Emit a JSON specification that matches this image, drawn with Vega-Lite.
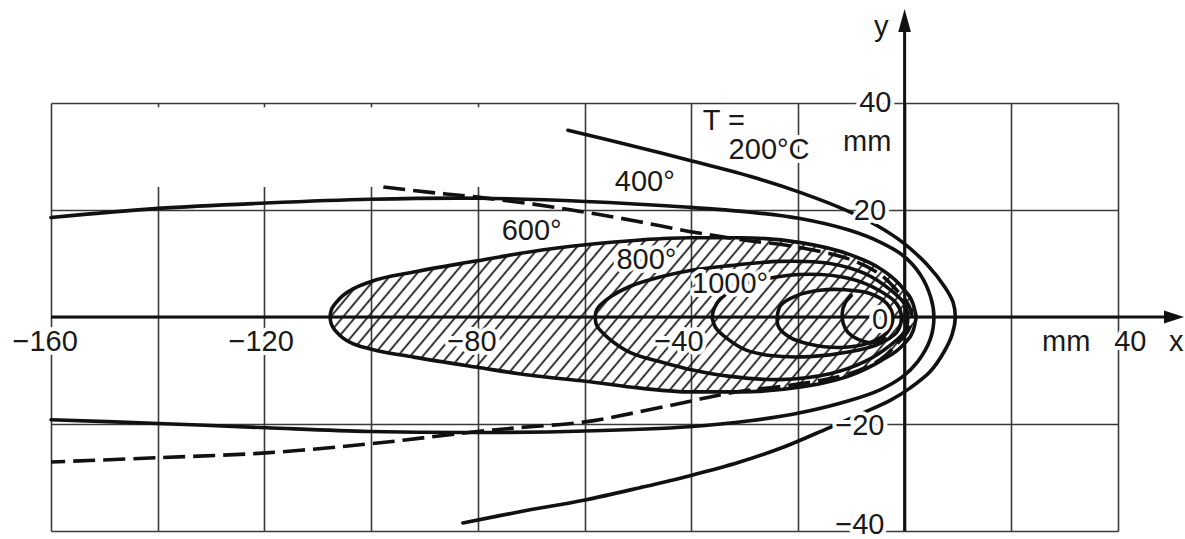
{
  "$schema": "https://vega.github.io/schema/vega-lite/v6.json",
  "width": 1067,
  "height": 428,
  "autosize": {"type": "none"},
  "padding": {"left": 51, "top": 103, "right": 67, "bottom": 8},
  "background": "white",
  "config": {"view": {"stroke": null}},
  "datasets": {
    "erase": [{"x": -159.3, "y": 24.3, "x2": -70, "y2": 39.2}],
    "hatch": [
      {"x": -107.7, "y": 0, "y2": 0},
      {"x": -107.55, "y": 1.0, "y2": -1.0},
      {"x": -107.1, "y": 2.0, "y2": -2.0},
      {"x": -106.3, "y": 3.0, "y2": -3.0},
      {"x": -105.3, "y": 4.0, "y2": -3.9},
      {"x": -104.0, "y": 4.9, "y2": -4.7},
      {"x": -100.1, "y": 6.6, "y2": -6.0},
      {"x": -92.0, "y": 8.4, "y2": -7.5},
      {"x": -80.1, "y": 10.5, "y2": -9.4},
      {"x": -70.1, "y": 12.2, "y2": -10.9},
      {"x": -59.8, "y": 13.5, "y2": -12.0},
      {"x": -49.5, "y": 14.4, "y2": -13.3},
      {"x": -40.3, "y": 14.8, "y2": -14.0},
      {"x": -30.7, "y": 14.8, "y2": -14.0},
      {"x": -19.5, "y": 13.9, "y2": -13.1},
      {"x": -10.1, "y": 11.6, "y2": -10.9},
      {"x": -4.5, "y": 9.0, "y2": -8.2},
      {"x": -0.2, "y": 5.2, "y2": -5.1},
      {"x": 1.6, "y": 2.4, "y2": -2.6},
      {"x": 2.2, "y": 0, "y2": 0}
    ],
    "iso": [
      {"c": "200", "i": 0, "x": -63.1, "y": 34.9},
      {"c": "200", "i": 1, "x": -51.5, "y": 32.1},
      {"c": "200", "i": 2, "x": -40.4, "y": 29.3},
      {"c": "200", "i": 3, "x": -29.0, "y": 26.3},
      {"c": "200", "i": 4, "x": -19.6, "y": 23.3},
      {"c": "200", "i": 5, "x": -10.6, "y": 19.8},
      {"c": "200", "i": 6, "x": -5.2, "y": 17.1},
      {"c": "200", "i": 7, "x": -0.3, "y": 13.9},
      {"c": "200", "i": 8, "x": 4.2, "y": 9.8},
      {"c": "200", "i": 9, "x": 7.6, "y": 5.5},
      {"c": "200", "i": 10, "x": 9.1, "y": 2.7},
      {"c": "200", "i": 11, "x": 9.5, "y": -0.1},
      {"c": "200", "i": 12, "x": 8.9, "y": -3.3},
      {"c": "200", "i": 13, "x": 7.4, "y": -6.5},
      {"c": "200", "i": 14, "x": 4.8, "y": -10.2},
      {"c": "200", "i": 15, "x": 1.0, "y": -13.3},
      {"c": "200", "i": 16, "x": -2.7, "y": -15.6},
      {"c": "200", "i": 17, "x": -8.4, "y": -18.2},
      {"c": "200", "i": 18, "x": -14.4, "y": -20.8},
      {"c": "200", "i": 19, "x": -22.4, "y": -24.2},
      {"c": "200", "i": 20, "x": -30.9, "y": -27.1},
      {"c": "200", "i": 21, "x": -40.4, "y": -29.7},
      {"c": "200", "i": 22, "x": -49.6, "y": -31.9},
      {"c": "200", "i": 23, "x": -59.9, "y": -34.2},
      {"c": "200", "i": 24, "x": -72.1, "y": -36.4},
      {"c": "200", "i": 25, "x": -82.8, "y": -38.5},
      {"c": "400", "i": 0, "x": -160.0, "y": 18.6},
      {"c": "400", "i": 1, "x": -139.9, "y": 20.3},
      {"c": "400", "i": 2, "x": -119.7, "y": 21.3},
      {"c": "400", "i": 3, "x": -100.2, "y": 22.0},
      {"c": "400", "i": 4, "x": -80.1, "y": 22.2},
      {"c": "400", "i": 5, "x": -59.8, "y": 21.6},
      {"c": "400", "i": 6, "x": -40.4, "y": 20.5},
      {"c": "400", "i": 7, "x": -29.0, "y": 19.6},
      {"c": "400", "i": 8, "x": -19.6, "y": 18.4},
      {"c": "400", "i": 9, "x": -10.3, "y": 16.2},
      {"c": "400", "i": 10, "x": -4.6, "y": 14.0},
      {"c": "400", "i": 11, "x": -0.3, "y": 11.5},
      {"c": "400", "i": 12, "x": 2.9, "y": 8.0},
      {"c": "400", "i": 13, "x": 4.9, "y": 3.7},
      {"c": "400", "i": 14, "x": 5.5, "y": -0.1},
      {"c": "400", "i": 15, "x": 4.8, "y": -4.2},
      {"c": "400", "i": 16, "x": 2.5, "y": -8.3},
      {"c": "400", "i": 17, "x": -0.3, "y": -11.1},
      {"c": "400", "i": 18, "x": -4.6, "y": -13.6},
      {"c": "400", "i": 19, "x": -10.3, "y": -15.6},
      {"c": "400", "i": 20, "x": -19.6, "y": -17.9},
      {"c": "400", "i": 21, "x": -29.0, "y": -19.4},
      {"c": "400", "i": 22, "x": -40.4, "y": -20.5},
      {"c": "400", "i": 23, "x": -59.8, "y": -21.3},
      {"c": "400", "i": 24, "x": -80.1, "y": -21.6},
      {"c": "400", "i": 25, "x": -100.2, "y": -21.4},
      {"c": "400", "i": 26, "x": -119.7, "y": -20.7},
      {"c": "400", "i": 27, "x": -139.9, "y": -19.9},
      {"c": "400", "i": 28, "x": -160.0, "y": -19.2},
      {"c": "800", "i": 0, "x": -58.0, "y": -0.1},
      {"c": "800", "i": 1, "x": -57.7, "y": 1.4},
      {"c": "800", "i": 2, "x": -55.8, "y": 3.3},
      {"c": "800", "i": 3, "x": -51.5, "y": 5.7},
      {"c": "800", "i": 4, "x": -45.3, "y": 7.6},
      {"c": "800", "i": 5, "x": -40.2, "y": 8.7},
      {"c": "800", "i": 6, "x": -32.7, "y": 9.6},
      {"c": "800", "i": 7, "x": -23.4, "y": 10.4},
      {"c": "800", "i": 8, "x": -14.0, "y": 10.0},
      {"c": "800", "i": 9, "x": -7.4, "y": 8.1},
      {"c": "800", "i": 10, "x": -2.7, "y": 5.1},
      {"c": "800", "i": 11, "x": 0.0, "y": 2.4},
      {"c": "800", "i": 12, "x": 0.6, "y": -0.1},
      {"c": "800", "i": 13, "x": 0.0, "y": -2.7},
      {"c": "800", "i": 14, "x": -2.7, "y": -5.3},
      {"c": "800", "i": 15, "x": -7.4, "y": -8.3},
      {"c": "800", "i": 16, "x": -14.0, "y": -10.6},
      {"c": "800", "i": 17, "x": -23.4, "y": -11.7},
      {"c": "800", "i": 18, "x": -32.7, "y": -11.1},
      {"c": "800", "i": 19, "x": -40.2, "y": -9.8},
      {"c": "800", "i": 20, "x": -45.3, "y": -8.5},
      {"c": "800", "i": 21, "x": -51.5, "y": -6.6},
      {"c": "800", "i": 22, "x": -55.8, "y": -3.7},
      {"c": "800", "i": 23, "x": -57.7, "y": -1.6},
      {"c": "800", "i": 24, "x": -58.0, "y": -0.1},
      {"c": "1000", "i": 0, "x": -36.1, "y": -0.1},
      {"c": "1000", "i": 1, "x": -35.7, "y": 1.6},
      {"c": "1000", "i": 2, "x": -34.6, "y": 3.3},
      {"c": "1000", "i": 3, "x": -31.2, "y": 5.7},
      {"c": "1000", "i": 4, "x": -25.8, "y": 7.2},
      {"c": "1000", "i": 5, "x": -17.7, "y": 8.0},
      {"c": "1000", "i": 6, "x": -10.3, "y": 7.2},
      {"c": "1000", "i": 7, "x": -5.0, "y": 5.1},
      {"c": "1000", "i": 8, "x": -1.5, "y": 2.5},
      {"c": "1000", "i": 9, "x": -0.6, "y": -0.1},
      {"c": "1000", "i": 10, "x": -1.5, "y": -2.9},
      {"c": "1000", "i": 11, "x": -5.0, "y": -5.1},
      {"c": "1000", "i": 12, "x": -10.3, "y": -6.5},
      {"c": "1000", "i": 13, "x": -17.7, "y": -7.4},
      {"c": "1000", "i": 14, "x": -25.2, "y": -7.2},
      {"c": "1000", "i": 15, "x": -29.9, "y": -6.1},
      {"c": "1000", "i": 16, "x": -33.3, "y": -4.0},
      {"c": "1000", "i": 17, "x": -35.4, "y": -2.0},
      {"c": "1000", "i": 18, "x": -36.1, "y": -0.1},
      {"c": "1200", "i": 0, "x": -23.9, "y": -0.1},
      {"c": "1200", "i": 1, "x": -23.2, "y": 2.2},
      {"c": "1200", "i": 2, "x": -20.2, "y": 4.0},
      {"c": "1200", "i": 3, "x": -15.9, "y": 5.0},
      {"c": "1200", "i": 4, "x": -11.2, "y": 5.1},
      {"c": "1200", "i": 5, "x": -6.5, "y": 4.4},
      {"c": "1200", "i": 6, "x": -3.3, "y": 2.5},
      {"c": "1200", "i": 7, "x": -2.2, "y": -0.1},
      {"c": "1200", "i": 8, "x": -3.3, "y": -2.9},
      {"c": "1200", "i": 9, "x": -6.5, "y": -4.8},
      {"c": "1200", "i": 10, "x": -12.1, "y": -5.7},
      {"c": "1200", "i": 11, "x": -17.7, "y": -5.1},
      {"c": "1200", "i": 12, "x": -21.5, "y": -3.8},
      {"c": "1200", "i": 13, "x": -23.6, "y": -1.9},
      {"c": "1200", "i": 14, "x": -23.9, "y": -0.1},
      {"c": "1400", "i": 0, "x": -10.0, "y": 4.0},
      {"c": "1400", "i": 1, "x": -11.2, "y": 2.5},
      {"c": "1400", "i": 2, "x": -11.7, "y": 0.7},
      {"c": "1400", "i": 3, "x": -11.5, "y": -1.2},
      {"c": "1400", "i": 4, "x": -10.6, "y": -2.9},
      {"c": "1400", "i": 5, "x": -8.7, "y": -4.2},
      {"c": "1400", "i": 6, "x": -6.1, "y": -4.8},
      {"c": "1400", "i": 7, "x": -3.7, "y": -4.0}
    ],
    "maxline": [
      {"i": 0, "x": -97.7, "y": 24.3},
      {"i": 1, "x": -88.9, "y": 23.3},
      {"i": 2, "x": -80.1, "y": 22.4},
      {"i": 3, "x": -69.6, "y": 21.1},
      {"i": 4, "x": -59.9, "y": 19.6},
      {"i": 5, "x": -50.2, "y": 17.9},
      {"i": 6, "x": -40.4, "y": 16.0},
      {"i": 7, "x": -30.9, "y": 14.5},
      {"i": 8, "x": -19.6, "y": 13.0},
      {"i": 9, "x": -10.3, "y": 10.8},
      {"i": 10, "x": -4.6, "y": 8.0},
      {"i": 11, "x": -1.3, "y": 4.8},
      {"i": 12, "x": 0.7, "y": 2.3},
      {"i": 13, "x": 1.4, "y": -0.1},
      {"i": 14, "x": 0.7, "y": -2.5},
      {"i": 15, "x": -1.3, "y": -4.9},
      {"i": 16, "x": -4.6, "y": -8.0},
      {"i": 17, "x": -10.3, "y": -10.6},
      {"i": 18, "x": -19.6, "y": -12.5},
      {"i": 19, "x": -32.2, "y": -14.1},
      {"i": 20, "x": -40.4, "y": -15.8},
      {"i": 21, "x": -49.6, "y": -17.7},
      {"i": 22, "x": -59.9, "y": -19.6},
      {"i": 23, "x": -72.5, "y": -20.7},
      {"i": 24, "x": -80.1, "y": -21.4},
      {"i": 25, "x": -90.3, "y": -22.6},
      {"i": 26, "x": -100.2, "y": -23.7},
      {"i": 27, "x": -119.7, "y": -25.4},
      {"i": 28, "x": -139.9, "y": -26.3},
      {"i": 29, "x": -160.0, "y": -27.1}
    ],
    "axes": [
      {"x": -160, "y": 0, "x2": 49.5, "y2": 0},
      {"x": 0, "y": -40, "x2": 0, "y2": 54}
    ],
    "arrowY": [{"x": 0, "y": 55.4}],
    "arrowX": [{"x": 50.5, "y": 0}],
    "labels": [
      {"t": "T =", "x": -33.9, "y": 36.6},
      {"t": "200°C", "x": -25.4, "y": 31.2},
      {"t": "400°", "x": -48.7, "y": 25.2},
      {"t": "600°", "x": -69.9, "y": 16.0},
      {"t": "800°", "x": -48.4, "y": 10.6},
      {"t": "1000°", "x": -32.7, "y": 6.1},
      {"t": "−160", "x": -161.1, "y": -4.6},
      {"t": "−120", "x": -120.6, "y": -4.6},
      {"t": "−80", "x": -81.1, "y": -4.6},
      {"t": "−40", "x": -42.3, "y": -4.6},
      {"t": "mm", "x": 30.3, "y": -4.6},
      {"t": "40", "x": 42.3, "y": -4.6},
      {"t": "x", "x": 50.9, "y": -4.6},
      {"t": "40", "x": -5.5, "y": 40.0},
      {"t": "mm", "x": -7.0, "y": 32.7},
      {"t": "20", "x": -6.5, "y": 19.9},
      {"t": "0", "x": -4.6, "y": -0.5},
      {"t": "−20", "x": -8.4, "y": -20.3},
      {"t": "−40", "x": -8.4, "y": -38.8},
      {"t": "y", "x": -4.4, "y": 54.2}
    ]
  },
  "encoding": {
    "x": {
      "field": "x", "type": "quantitative",
      "scale": {"domain": [-160, 40], "nice": false, "zero": false},
      "axis": {"values": [-160, -140, -120, -100, -80, -60, -40, -20, 0, 20, 40], "grid": true, "gridColor": "#3a3a3a", "gridWidth": 1.6, "labels": false, "ticks": false, "domain": false, "title": null}
    },
    "y": {
      "field": "y", "type": "quantitative",
      "scale": {"domain": [-40, 40], "nice": false, "zero": false},
      "axis": {"values": [-40, -20, 0, 20, 40], "grid": true, "gridColor": "#3a3a3a", "gridWidth": 1.6, "labels": false, "ticks": false, "domain": false, "title": null}
    }
  },
  "layer": [
    {
      "data": {"name": "erase"},
      "mark": {"type": "rect", "fill": "white"},
      "encoding": {"x2": {"field": "x2"}, "y2": {"field": "y2"}}
    },
    {
      "data": {"name": "hatch"},
      "mark": {
        "type": "area", "interpolate": "monotone", "stroke": "#111", "strokeWidth": 3.6, "strokeJoin": "round",
        "fill": {
          "gradient": "linear", "x1": 0, "y1": 0, "x2": 1.1639, "y2": 0.2566,
          "stops": [
            {"offset": 0.003, "color": "transparent"}, {"offset": 0.006, "color": "#111"}, {"offset": 0.009, "color": "transparent"},
            {"offset": 0.0205, "color": "transparent"}, {"offset": 0.0235, "color": "#111"}, {"offset": 0.0265, "color": "transparent"},
            {"offset": 0.038, "color": "transparent"}, {"offset": 0.041, "color": "#111"}, {"offset": 0.044, "color": "transparent"},
            {"offset": 0.0555, "color": "transparent"}, {"offset": 0.0585, "color": "#111"}, {"offset": 0.0615, "color": "transparent"},
            {"offset": 0.073, "color": "transparent"}, {"offset": 0.076, "color": "#111"}, {"offset": 0.079, "color": "transparent"},
            {"offset": 0.0905, "color": "transparent"}, {"offset": 0.0935, "color": "#111"}, {"offset": 0.0965, "color": "transparent"},
            {"offset": 0.1079, "color": "transparent"}, {"offset": 0.1109, "color": "#111"}, {"offset": 0.1139, "color": "transparent"},
            {"offset": 0.1254, "color": "transparent"}, {"offset": 0.1284, "color": "#111"}, {"offset": 0.1314, "color": "transparent"},
            {"offset": 0.1429, "color": "transparent"}, {"offset": 0.1459, "color": "#111"}, {"offset": 0.1489, "color": "transparent"},
            {"offset": 0.1604, "color": "transparent"}, {"offset": 0.1634, "color": "#111"}, {"offset": 0.1664, "color": "transparent"},
            {"offset": 0.1779, "color": "transparent"}, {"offset": 0.1809, "color": "#111"}, {"offset": 0.1839, "color": "transparent"},
            {"offset": 0.1954, "color": "transparent"}, {"offset": 0.1984, "color": "#111"}, {"offset": 0.2014, "color": "transparent"},
            {"offset": 0.2129, "color": "transparent"}, {"offset": 0.2159, "color": "#111"}, {"offset": 0.2189, "color": "transparent"},
            {"offset": 0.2304, "color": "transparent"}, {"offset": 0.2334, "color": "#111"}, {"offset": 0.2364, "color": "transparent"},
            {"offset": 0.2479, "color": "transparent"}, {"offset": 0.2509, "color": "#111"}, {"offset": 0.2539, "color": "transparent"},
            {"offset": 0.2654, "color": "transparent"}, {"offset": 0.2684, "color": "#111"}, {"offset": 0.2714, "color": "transparent"},
            {"offset": 0.2828, "color": "transparent"}, {"offset": 0.2858, "color": "#111"}, {"offset": 0.2888, "color": "transparent"},
            {"offset": 0.3003, "color": "transparent"}, {"offset": 0.3033, "color": "#111"}, {"offset": 0.3063, "color": "transparent"},
            {"offset": 0.3178, "color": "transparent"}, {"offset": 0.3208, "color": "#111"}, {"offset": 0.3238, "color": "transparent"},
            {"offset": 0.3353, "color": "transparent"}, {"offset": 0.3383, "color": "#111"}, {"offset": 0.3413, "color": "transparent"},
            {"offset": 0.3528, "color": "transparent"}, {"offset": 0.3558, "color": "#111"}, {"offset": 0.3588, "color": "transparent"},
            {"offset": 0.3703, "color": "transparent"}, {"offset": 0.3733, "color": "#111"}, {"offset": 0.3763, "color": "transparent"},
            {"offset": 0.3878, "color": "transparent"}, {"offset": 0.3908, "color": "#111"}, {"offset": 0.3938, "color": "transparent"},
            {"offset": 0.4053, "color": "transparent"}, {"offset": 0.4083, "color": "#111"}, {"offset": 0.4113, "color": "transparent"},
            {"offset": 0.4228, "color": "transparent"}, {"offset": 0.4258, "color": "#111"}, {"offset": 0.4288, "color": "transparent"},
            {"offset": 0.4403, "color": "transparent"}, {"offset": 0.4433, "color": "#111"}, {"offset": 0.4463, "color": "transparent"},
            {"offset": 0.4577, "color": "transparent"}, {"offset": 0.4607, "color": "#111"}, {"offset": 0.4637, "color": "transparent"},
            {"offset": 0.4752, "color": "transparent"}, {"offset": 0.4782, "color": "#111"}, {"offset": 0.4812, "color": "transparent"},
            {"offset": 0.4927, "color": "transparent"}, {"offset": 0.4957, "color": "#111"}, {"offset": 0.4987, "color": "transparent"},
            {"offset": 0.5102, "color": "transparent"}, {"offset": 0.5132, "color": "#111"}, {"offset": 0.5162, "color": "transparent"},
            {"offset": 0.5277, "color": "transparent"}, {"offset": 0.5307, "color": "#111"}, {"offset": 0.5337, "color": "transparent"},
            {"offset": 0.5452, "color": "transparent"}, {"offset": 0.5482, "color": "#111"}, {"offset": 0.5512, "color": "transparent"},
            {"offset": 0.5627, "color": "transparent"}, {"offset": 0.5657, "color": "#111"}, {"offset": 0.5687, "color": "transparent"},
            {"offset": 0.5802, "color": "transparent"}, {"offset": 0.5832, "color": "#111"}, {"offset": 0.5862, "color": "transparent"},
            {"offset": 0.5977, "color": "transparent"}, {"offset": 0.6007, "color": "#111"}, {"offset": 0.6037, "color": "transparent"},
            {"offset": 0.6152, "color": "transparent"}, {"offset": 0.6182, "color": "#111"}, {"offset": 0.6212, "color": "transparent"},
            {"offset": 0.6326, "color": "transparent"}, {"offset": 0.6356, "color": "#111"}, {"offset": 0.6386, "color": "transparent"},
            {"offset": 0.6501, "color": "transparent"}, {"offset": 0.6531, "color": "#111"}, {"offset": 0.6561, "color": "transparent"},
            {"offset": 0.6676, "color": "transparent"}, {"offset": 0.6706, "color": "#111"}, {"offset": 0.6736, "color": "transparent"},
            {"offset": 0.6851, "color": "transparent"}, {"offset": 0.6881, "color": "#111"}, {"offset": 0.6911, "color": "transparent"},
            {"offset": 0.7026, "color": "transparent"}, {"offset": 0.7056, "color": "#111"}, {"offset": 0.7086, "color": "transparent"},
            {"offset": 0.7201, "color": "transparent"}, {"offset": 0.7231, "color": "#111"}, {"offset": 0.7261, "color": "transparent"},
            {"offset": 0.7376, "color": "transparent"}, {"offset": 0.7406, "color": "#111"}, {"offset": 0.7436, "color": "transparent"},
            {"offset": 0.7551, "color": "transparent"}, {"offset": 0.7581, "color": "#111"}, {"offset": 0.7611, "color": "transparent"},
            {"offset": 0.7726, "color": "transparent"}, {"offset": 0.7756, "color": "#111"}, {"offset": 0.7786, "color": "transparent"},
            {"offset": 0.7901, "color": "transparent"}, {"offset": 0.7931, "color": "#111"}, {"offset": 0.7961, "color": "transparent"},
            {"offset": 0.8075, "color": "transparent"}, {"offset": 0.8105, "color": "#111"}, {"offset": 0.8135, "color": "transparent"},
            {"offset": 0.825, "color": "transparent"}, {"offset": 0.828, "color": "#111"}, {"offset": 0.831, "color": "transparent"},
            {"offset": 0.8425, "color": "transparent"}, {"offset": 0.8455, "color": "#111"}, {"offset": 0.8485, "color": "transparent"},
            {"offset": 0.86, "color": "transparent"}, {"offset": 0.863, "color": "#111"}, {"offset": 0.866, "color": "transparent"},
            {"offset": 0.8775, "color": "transparent"}, {"offset": 0.8805, "color": "#111"}, {"offset": 0.8835, "color": "transparent"},
            {"offset": 0.895, "color": "transparent"}, {"offset": 0.898, "color": "#111"}, {"offset": 0.901, "color": "transparent"},
            {"offset": 0.9125, "color": "transparent"}, {"offset": 0.9155, "color": "#111"}, {"offset": 0.9185, "color": "transparent"},
            {"offset": 0.93, "color": "transparent"}, {"offset": 0.933, "color": "#111"}, {"offset": 0.936, "color": "transparent"},
            {"offset": 0.9475, "color": "transparent"}, {"offset": 0.9505, "color": "#111"}, {"offset": 0.9535, "color": "transparent"},
            {"offset": 0.965, "color": "transparent"}, {"offset": 0.968, "color": "#111"}, {"offset": 0.971, "color": "transparent"},
            {"offset": 0.9824, "color": "transparent"}, {"offset": 0.9854, "color": "#111"}, {"offset": 0.9884, "color": "transparent"}
          ]
        }
      },
      "encoding": {"y2": {"field": "y2"}}
    },
    {
      "data": {"name": "iso"},
      "mark": {"type": "line", "interpolate": "catmull-rom", "stroke": "#111", "strokeWidth": 3.6, "strokeCap": "round", "strokeJoin": "round"},
      "encoding": {"detail": {"field": "c"}, "order": {"field": "i", "type": "quantitative"}}
    },
    {
      "data": {"name": "maxline"},
      "mark": {"type": "line", "interpolate": "catmull-rom", "stroke": "#111", "strokeWidth": 3.6, "strokeDash": [22, 8]},
      "encoding": {"order": {"field": "i", "type": "quantitative"}}
    },
    {
      "data": {"name": "axes"},
      "mark": {"type": "rule", "stroke": "#111", "strokeWidth": 3},
      "encoding": {"x2": {"field": "x2"}, "y2": {"field": "y2"}}
    },
    {
      "data": {"name": "arrowY"},
      "mark": {"type": "point", "shape": "M0,-1L0.55,1L-0.55,1Z", "size": 529, "filled": true, "fill": "#111", "opacity": 1, "strokeWidth": 0}
    },
    {
      "data": {"name": "arrowX"},
      "mark": {"type": "point", "shape": "M1,0L-1,0.65L-1,-0.65Z", "size": 400, "filled": true, "fill": "#111", "opacity": 1, "strokeWidth": 0}
    },
    {
      "data": {"name": "labels"},
      "mark": {"type": "text", "font": "Liberation Sans", "fontSize": 29, "align": "center", "baseline": "middle", "fill": "white", "stroke": "white", "strokeWidth": 8, "strokeJoin": "round"},
      "encoding": {"text": {"field": "t"}}
    },
    {
      "data": {"name": "labels"},
      "mark": {"type": "text", "font": "Liberation Sans", "fontSize": 29, "align": "center", "baseline": "middle", "fill": "#1a1a1a"},
      "encoding": {"text": {"field": "t"}}
    }
  ]
}
